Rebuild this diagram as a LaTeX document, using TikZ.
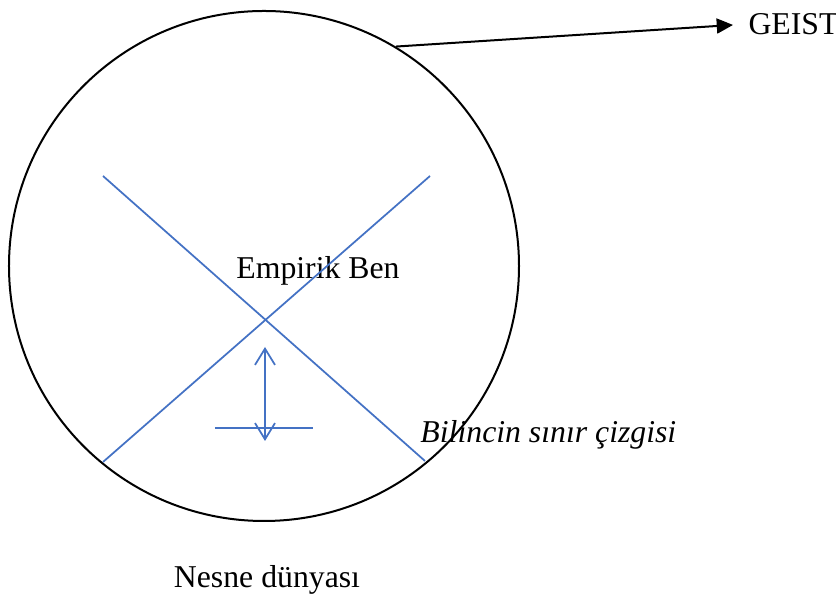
\documentclass[tikz,border=0pt]{standalone}
\usepackage{fontspec}
\setmainfont{Liberation Serif}
\usetikzlibrary{arrows.meta,positioning}
\definecolor{lineblue}{RGB}{68,114,196}

\begin{document}
\begin{tikzpicture}[x=0.4pt,y=-0.4pt,
		world/.style = {draw, circle, line width=0.8pt, minimum size=204pt, inner sep=0pt},
		cross/.style = {draw=lineblue, line width=0.7pt},
		label/.style = {font=\fontsize{12.7}{15}\selectfont, inner sep=0pt}]
		\useasboundingbox (0,0) rectangle (836,611);
		\node[world] (w) at (264,266) {};
		\node[label, anchor=west] (geist) at (748,24) {GEIST};
		\node[label] (ben) at (318,271) {Empirik Ben};
		\node[label, anchor=west] (sinir) at (420,435) {\itshape Bilincin sınır çizgisi};
		\node[label] (nesne) at (267,580) {Nesne dünyası};
		\coordinate (a1) at (103,176);
		\coordinate (a2) at (425,461);
		\coordinate (b1) at (430,176);
		\coordinate (b2) at (103,462);
		\coordinate (up) at (265,347);
		\coordinate (down) at (265,441);
		\coordinate (h1) at (215,428);
		\coordinate (h2) at (313,428);
		\draw[cross] (a1) -- (a2);
		\draw[cross] (b1) -- (b2);
		\draw[cross] (h1) -- (h2);
		\draw[cross, {Straight Barb[length=6.5pt,width=8pt]}-{Straight Barb[length=6.5pt,width=8pt]}] (up) -- (down);
		\draw[line width=0.8pt, shorten >=6pt, -{Triangle[length=6.5pt,width=6pt]}] (w.59) -- (geist.west);
	\end{tikzpicture}
\end{document}
